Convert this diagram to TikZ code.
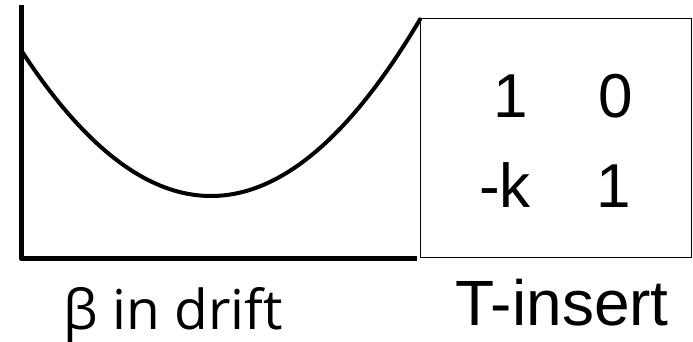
\documentclass[tikz,border=0pt]{standalone}
\usepackage{fontspec}
\setmainfont{Liberation Sans}
\newfontfamily\labfont{Open Sans}
\begin{document}
\begin{tikzpicture}[x=1pt,y=-1pt,
  axis/.style={line width=5pt,line join=round},
  curve/.style={line width=4pt,line cap=round},
  boxline/.style={line width=1.6pt},
  big/.style={font=\fontsize{62}{62}\selectfont,inner sep=0pt,anchor=base},
  lab/.style={font=\labfont\fontsize{55}{55}\selectfont,inner sep=0pt,anchor=base}]
\useasboundingbox (0,0) rectangle (693,341);
\draw[axis] (21,5) -- (21,258.5) -- (417,258.5);
\draw[curve,domain=21:420,samples=80,smooth] plot (\x,{196-0.00405*(\x-211)*(\x-211)});
\draw[boxline] (420.5,18.5) rectangle (691.5,257.5);
\node[big] (a11) at (511,117) {1};
\node[big] (a12) at (616,117) {0};
\node[big] (a21) at (505,207) {-k};
\node[big] (a22) at (614,207) {1};
\node[lab] (l1) at (173,329) {β in drift};
\node[big,font=\fontsize{64}{64}\selectfont] (l2) at (562,325) {T-insert};
\end{tikzpicture}
\end{document}
